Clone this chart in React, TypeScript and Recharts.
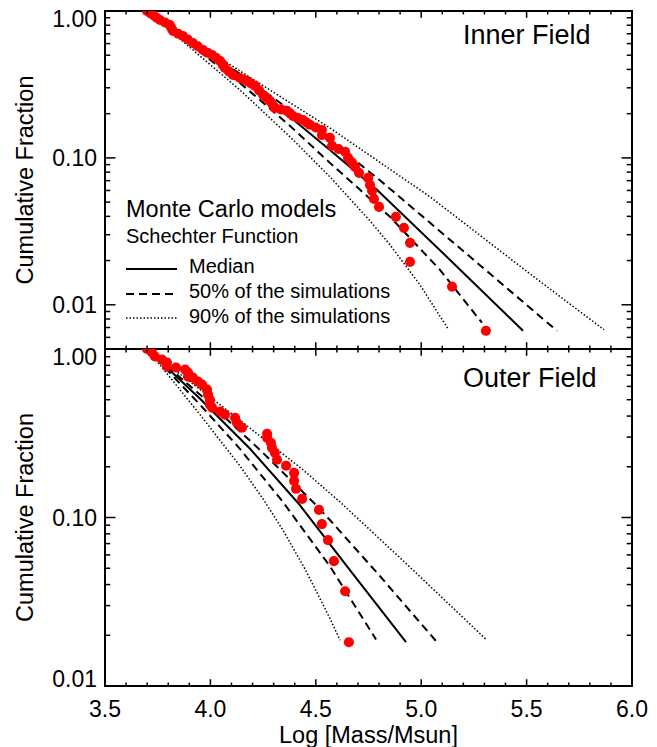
import React from 'react';
import { ComposedChart, Line, Scatter, XAxis, YAxis, ZAxis, ReferenceArea } from 'recharts';

const FONT = '"Liberation Sans", Arial, Helvetica, sans-serif';

// ---------- axes ----------
const xAllTicks = [3.5, 3.6, 3.7, 3.8, 3.9, 4.0, 4.1, 4.2, 4.3, 4.4, 4.5, 4.6, 4.7, 4.8, 4.9, 5.0, 5.1, 5.2, 5.3, 5.4, 5.5, 5.6, 5.7, 5.8, 5.9, 6.0];
const xMajorTicks = [3.5, 4.0, 4.5, 5.0, 5.5, 6.0];
const xTickLabels = ['3.5', '4.0', '4.5', '5.0', '5.5', '6.0'];
const xDomain = [3.5, 6.0];

const yMajorTicks = [0.01, 0.1, 1];
const yTickLabels = ['0.01', '0.10', '1.00'];
const innerYTicks = [0.005, 0.006, 0.007, 0.008, 0.009, 0.01, 0.02, 0.03, 0.04, 0.05, 0.06, 0.07, 0.08, 0.09, 0.1, 0.2, 0.3, 0.4, 0.5, 0.6, 0.7, 0.8, 0.9, 1];
const outerYTicks = [0.01, 0.02, 0.03, 0.04, 0.05, 0.06, 0.07, 0.08, 0.09, 0.1, 0.2, 0.3, 0.4, 0.5, 0.6, 0.7, 0.8, 0.9, 1];
const innerDomain = [0.005, 1];
const outerDomain = [0.01, 1];

// ---------- Inner Field data ----------
const innerMass = [3.699, 3.715, 3.730, 3.745, 3.761, 3.785, 3.808, 3.815, 3.823, 3.847, 3.870, 3.893, 3.917, 3.940, 3.965, 3.987, 4.008, 4.027, 4.046, 4.058, 4.069, 4.088, 4.107, 4.140, 4.157, 4.174, 4.193, 4.212, 4.231, 4.250, 4.266, 4.283, 4.295, 4.306, 4.335, 4.363, 4.378, 4.392, 4.415, 4.439, 4.456, 4.472, 4.500, 4.529, 4.529, 4.567, 4.577, 4.608, 4.639, 4.653, 4.672, 4.686, 4.705, 4.748, 4.757, 4.767, 4.776, 4.800, 4.880, 4.918, 4.947, 4.947, 5.146, 5.307];
const innerFrac = [1.0, 0.965, 0.935, 0.900, 0.869, 0.835, 0.803, 0.765, 0.731, 0.700, 0.676, 0.640, 0.606, 0.575, 0.543, 0.520, 0.502, 0.480, 0.457, 0.433, 0.410, 0.388, 0.367, 0.350, 0.342, 0.334, 0.321, 0.309, 0.288, 0.268, 0.256, 0.244, 0.231, 0.219, 0.214, 0.209, 0.201, 0.193, 0.187, 0.181, 0.174, 0.168, 0.161, 0.155, 0.143, 0.137, 0.121, 0.115, 0.110, 0.100, 0.0925, 0.0869, 0.0791, 0.0731, 0.0655, 0.0597, 0.0526, 0.0464, 0.0397, 0.0334, 0.0264, 0.0196, 0.0133, 0.00665];

const innerMedianX = [3.70, 4.140, 4.378, 4.567, 4.790, 5.137, 5.483];
const innerMedianY = [1.0, 0.350, 0.190, 0.1133, 0.0606, 0.0202, 0.00665];
const inner50HiX = [3.70, 4.140, 4.378, 4.567, 4.819, 5.232, 5.644];
const inner50HiY = [1.0, 0.373, 0.212, 0.1325, 0.0676, 0.0212, 0.00665];
const inner50LoX = [3.70, 4.140, 4.378, 4.567, 4.710, 4.852, 5.089, 5.288];
const inner50LoY = [1.0, 0.324, 0.165, 0.0925, 0.0606, 0.0397, 0.0173, 0.00755];
const inner90HiX = [3.70, 4.140, 4.378, 4.567, 5.042, 5.516, 5.867];
const inner90HiY = [1.0, 0.391, 0.237, 0.160, 0.0543, 0.01625, 0.00676];
const inner90LoX = [3.70, 4.140, 4.378, 4.567, 4.757, 4.852, 4.994, 5.127];
const inner90LoY = [1.0, 0.290, 0.139, 0.0743, 0.0373, 0.0256, 0.01368, 0.00687];

// ---------- Outer Field data ----------
const outerMass = [3.699, 3.723, 3.737, 3.770, 3.794, 3.794, 3.837, 3.880, 3.894, 3.894, 3.917, 3.941, 3.960, 3.984, 3.989, 3.998, 3.998, 4.008, 4.046, 4.069, 4.117, 4.126, 4.150, 4.269, 4.269, 4.287, 4.292, 4.306, 4.316, 4.359, 4.397, 4.397, 4.406, 4.435, 4.515, 4.529, 4.558, 4.586, 4.639, 4.657];
const outerFrac = [1.0, 0.953, 0.902, 0.866, 0.831, 0.787, 0.776, 0.755, 0.725, 0.686, 0.676, 0.641, 0.615, 0.574, 0.536, 0.500, 0.467, 0.449, 0.425, 0.408, 0.391, 0.365, 0.341, 0.314, 0.297, 0.278, 0.259, 0.242, 0.220, 0.203, 0.184, 0.165, 0.148, 0.129, 0.111, 0.0914, 0.0734, 0.0551, 0.0365, 0.0182];

const outerMedianX = [3.70, 3.951, 4.188, 4.420, 4.662, 4.928];
const outerMedianY = [1.0, 0.507, 0.2557, 0.1203, 0.0487, 0.0182];
const outer50HiX = [3.70, 3.951, 4.235, 4.487, 4.567, 4.805, 5.075];
const outer50HiY = [1.0, 0.536, 0.252, 0.1236, 0.0966, 0.0448, 0.0182];
const outer50LoX = [3.70, 3.951, 4.140, 4.344, 4.567, 4.786];
const outer50LoY = [1.0, 0.467, 0.2557, 0.1236, 0.0514, 0.0189];
const outer90HiX = [3.70, 4.046, 4.439, 4.615, 4.947, 5.312];
const outer90HiY = [1.0, 0.467, 0.192, 0.1236, 0.0507, 0.0187];
const outer90LoX = [3.70, 3.951, 4.140, 4.250, 4.344, 4.449, 4.567, 4.615];
const outer90LoY = [1.0, 0.4075, 0.2025, 0.1288, 0.0842, 0.0494, 0.0252, 0.0187];

// ---------- layout ----------
const W = 657;
const H = 747;
const PL = 105;
const PR = 632;
const YW = 60;

const zip = (xs: number[], ys: number[]) => xs.map((x, i) => ({ x, y: ys[i] }));

const SOLID = { strokeWidth: 2, dash: undefined as string | undefined };
const DASHED = { strokeWidth: 2, dash: '8 5' };
const DOTTED = { strokeWidth: 1.5, dash: '1.5 2' };

const innerLines = [
  { name: 'median', data: zip(innerMedianX, innerMedianY), style: SOLID },
  { name: '50hi', data: zip(inner50HiX, inner50HiY), style: DASHED },
  { name: '50lo', data: zip(inner50LoX, inner50LoY), style: DASHED },
  { name: '90hi', data: zip(inner90HiX, inner90HiY), style: DOTTED },
  { name: '90lo', data: zip(inner90LoX, inner90LoY), style: DOTTED },
];
const outerLines = [
  { name: 'median', data: zip(outerMedianX, outerMedianY), style: SOLID },
  { name: '50hi', data: zip(outer50HiX, outer50HiY), style: DASHED },
  { name: '50lo', data: zip(outer50LoX, outer50LoY), style: DASHED },
  { name: '90hi', data: zip(outer90HiX, outer90HiY), style: DOTTED },
  { name: '90lo', data: zip(outer90LoX, outer90LoY), style: DOTTED },
];

const near = (a: number, b: number) => Math.abs(a - b) < 1e-6;

function Panel(props: any) {
  const { plotTop, plotBottom, domain, yTicks, points, lines, showXLabels } = props;
  const margin = { top: plotTop, bottom: H - plotBottom - 1, left: PL - YW, right: W - PR };

  const renderXTick = (p: any) => {
    const v = p.payload.value;
    const x = p.x;
    const mi = xMajorTicks.findIndex((m) => near(m, v));
    const len = mi >= 0 ? 6.8 : 3.4;
    return (
      <g>
        <line x1={x} x2={x} y1={plotTop} y2={plotTop + len} stroke="#000" strokeWidth={1.5} />
        <line x1={x} x2={x} y1={plotBottom} y2={plotBottom - len} stroke="#000" strokeWidth={1.5} />
        {showXLabels && mi >= 0 ? (
          <text x={x} y={plotBottom + 31} textAnchor="middle" fontSize={23} fontFamily={FONT} fill="#000">
            {xTickLabels[mi]}
          </text>
        ) : null}
      </g>
    );
  };

  const renderYTick = (p: any) => {
    const v = p.payload.value;
    const y = p.y;
    const mi = yMajorTicks.findIndex((m) => near(m, v));
    const len = mi >= 0 ? 10.5 : 5.3;
    let dy = 0;
    if (near(v, domain[1])) dy = 8;
    if (near(v, domain[0])) dy = -7;
    return (
      <g>
        <line x1={PL} x2={PL + len} y1={y} y2={y} stroke="#000" strokeWidth={1.5} />
        <line x1={PR} x2={PR - len} y1={y} y2={y} stroke="#000" strokeWidth={1.5} />
        {mi >= 0 ? (
          <text x={PL - 8} y={y + dy + 8} textAnchor="end" fontSize={23} fontFamily={FONT} fill="#000">
            {yTickLabels[mi]}
          </text>
        ) : null}
      </g>
    );
  };

  return (
    <div style={{ position: 'absolute', left: 0, top: 0 }}>
      <ComposedChart width={W} height={H} margin={margin}>
        <XAxis
          type="number"
          dataKey="x"
          domain={xDomain}
          allowDataOverflow
          ticks={xAllTicks}
          interval={0}
          height={1}
          axisLine={false}
          tickLine={false}
          tick={renderXTick}
        />
        <YAxis
          type="number"
          scale="log"
          domain={domain}
          allowDataOverflow
          ticks={yTicks}
          interval={0}
          width={YW}
          axisLine={false}
          tickLine={false}
          tick={renderYTick}
        />
        <ZAxis range={[80, 80]} />
        <ReferenceArea
          x1={xDomain[0]}
          x2={xDomain[1]}
          y1={domain[0]}
          y2={domain[1]}
          fill="none"
          fillOpacity={0}
          stroke="#000"
          strokeWidth={2}
          ifOverflow="visible"
        />
        {lines.map((l: any) => (
          <Line
            key={l.name}
            data={l.data}
            dataKey="y"
            type="linear"
            stroke="#000"
            strokeWidth={l.style.strokeWidth}
            strokeDasharray={l.style.dash}
            dot={false}
            activeDot={false}
            isAnimationActive={false}
          />
        ))}
        <Scatter data={points} dataKey="y" fill="#ff0000" isAnimationActive={false} />
      </ComposedChart>
    </div>
  );
}

export default function App() {
  const innerPts = zip(innerMass, innerFrac);
  const outerPts = zip(outerMass, outerFrac);
  const innerTop = 11;
  const innerBottom = 349;
  const outerTop = 349;
  const outerBottom = 686;
  const plotMid = (PL + PR) / 2;
  return (
    <div style={{ position: 'absolute', left: 0, top: 0, width: W, height: H, background: '#fff', overflow: 'hidden' }}>
      <Panel plotTop={innerTop} plotBottom={innerBottom} domain={innerDomain} yTicks={innerYTicks} points={innerPts} lines={innerLines} showXLabels={false} />
      <Panel plotTop={outerTop} plotBottom={outerBottom} domain={outerDomain} yTicks={outerYTicks} points={outerPts} lines={outerLines} showXLabels={true} />
      <svg width={W} height={H} style={{ position: 'absolute', left: 0, top: 0, pointerEvents: 'none' }}>
        <g fontFamily={FONT} fill="#000">
          <text x={463} y={44} fontSize={27}>Inner Field</text>
          <text x={463} y={387} fontSize={27}>Outer Field</text>
          <text x={126} y={217} fontSize={23.5}>Monte Carlo models</text>
          <text x={126} y={243} fontSize={20}>Schechter Function</text>
          <text x={189} y={273} fontSize={20}>Median</text>
          <text x={189} y={298} fontSize={20}>50% of the simulations</text>
          <text x={189} y={323} fontSize={20}>90% of the simulations</text>
          <text x={plotMid} y={743} fontSize={23.5} textAnchor="middle">Log [Mass/Msun]</text>
          <text x={33} y={(innerTop + innerBottom) / 2} fontSize={23.5} textAnchor="middle" transform={`rotate(-90 33 ${(innerTop + innerBottom) / 2})`}>Cumulative Fraction</text>
          <text x={33} y={(outerTop + outerBottom) / 2} fontSize={23.5} textAnchor="middle" transform={`rotate(-90 33 ${(outerTop + outerBottom) / 2})`}>Cumulative Fraction</text>
        </g>
        <line x1={126} x2={177} y1={269} y2={269} stroke="#000" strokeWidth={2} />
        <line x1={126} x2={177} y1={294} y2={294} stroke="#000" strokeWidth={2} strokeDasharray="8 5" />
        <line x1={126} x2={177} y1={318} y2={318} stroke="#000" strokeWidth={1.5} strokeDasharray="1.5 2" />
      </svg>
    </div>
  );
}
